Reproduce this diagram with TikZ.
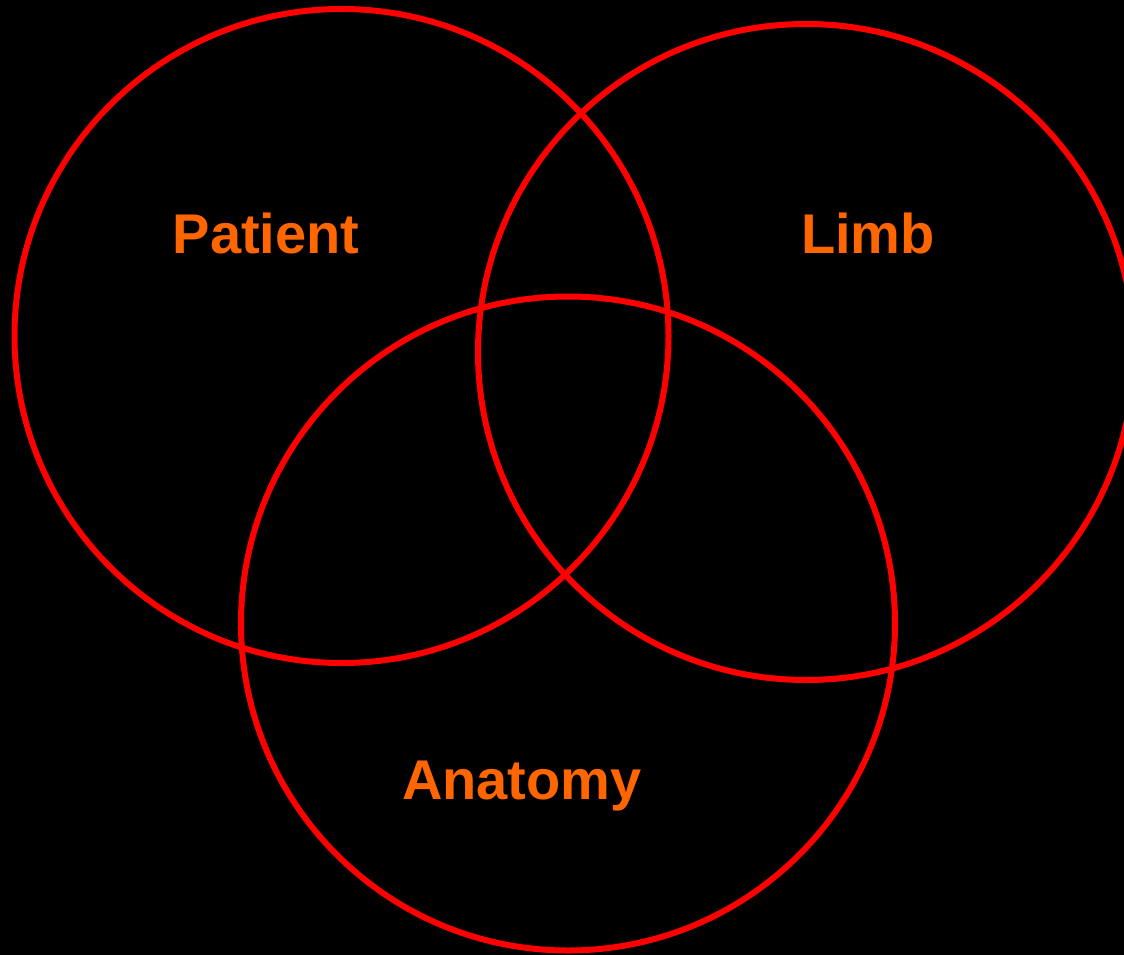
\documentclass[tikz,border=0pt]{standalone}
\usepackage{fontspec}
\setmainfont{Liberation Sans}
\definecolor{ring}{HTML}{FF0000}
\definecolor{lbl}{HTML}{FF6600}
\begin{document}
\begin{tikzpicture}[x=1pt,y=-1pt,
  ring/.style={draw=ring,line width=6pt},
  lbl/.style={text=lbl,font=\fontsize{56}{60}\selectfont\bfseries,anchor=base,inner sep=0pt}]
\fill[black] (0,0) rectangle (1124,955);
\useasboundingbox (0,0) rectangle (1124,955);
\begin{scope}
\clip (0,0) rectangle (1124,955);
\node[ring,circle,minimum size=654pt,inner sep=0pt] (patient) at (341.5,336) {};
\node[ring,circle,minimum size=656pt,inner sep=0pt] (limb) at (806,352) {};
\node[ring,circle,minimum size=654pt,inner sep=0pt] (anatomy) at (568,623.5) {};
\end{scope}
\node[lbl] (tp) at (266,253) {Patient};
\node[lbl] (tl) at (868,253) {Limb};
\node[lbl] (ta) at (522,799) {Anatomy};
\end{tikzpicture}
\end{document}
